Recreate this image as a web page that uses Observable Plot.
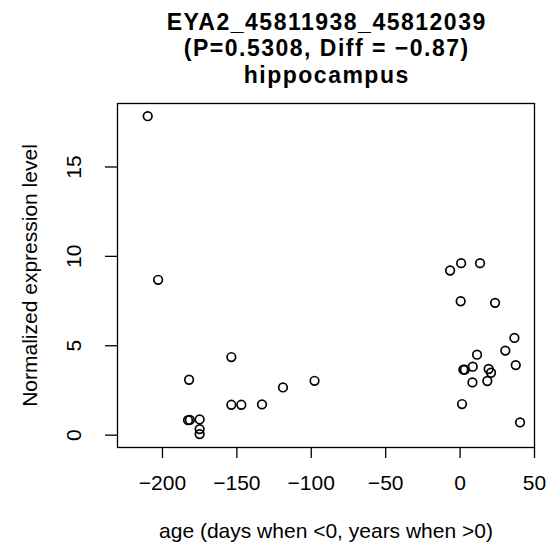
<!DOCTYPE html>
<html><head><meta charset="utf-8">
<script src="https://cdn.jsdelivr.net/npm/d3@7"></script>
<script src="https://cdn.jsdelivr.net/npm/@observablehq/plot@0.6"></script>
<style>body{margin:0;background:#fff}</style>
</head><body><div id="chart"></div>
<script>
const ages = [-209.9, -202.9, -182.1, -182.8, -181.6, -175.0, -175.0, -175.0, -153.7, -153.7, -147.0, -133.1, -119.0, -97.8,
  -6.7, 0.7, 13.4, 0.4, 23.5, 36.5, 30.4, 11.4, 2.2, 3.2, 8.5, 19.2, 20.8, 37.4, 8.3, 18.3, 1.3, 40.3];
const levels = [17.84, 8.69, 3.10, 0.84, 0.85, 0.88, 0.34, 0.06, 4.37, 1.70, 1.70, 1.72, 2.67, 3.04,
  9.21, 9.62, 9.62, 7.49, 7.40, 5.44, 4.73, 4.50, 3.66, 3.66, 3.83, 3.70, 3.49, 3.92, 2.95, 3.03, 1.74, 0.71];
const xTicks = [-200, -150, -100, -50, 0, 50];
const yTicks = [0, 5, 10, 15];
const titleLines = ["EYA2_45811938_45812039", "(P=0.5308, Diff = \u22120.87)", "hippocampus"];
const xLabel = "age (days when <0, years when >0)";
const yLabel = "Normalized expression level";

const data = ages.map((a, i) => ({age: a, level: levels[i]}));
const font = "'Liberation Sans', Arial, Helvetica, sans-serif";

const plot = Plot.plot({
  width: 552, height: 559,
  marginLeft: 117, marginRight: 18, marginTop: 103, marginBottom: 112,
  style: {fontFamily: font, background: "white", color: "black"},
  x: {domain: [-230.2, 50]},
  y: {domain: [-0.69, 18.55]},
  marks: [
    Plot.frame({stroke: "black", strokeWidth: 1.3}),
    Plot.axisX(xTicks, {tickSize: 11, tickPadding: 17, fontSize: 21, label: null, strokeWidth: 1.3}),
    Plot.axisY(yTicks, {tickSize: 12, tickPadding: 25, tickRotate: -90, fontSize: 21, label: null, strokeWidth: 1.3}),
    Plot.dot(data, {x: "age", y: "level", r: 4.3, stroke: "black", strokeWidth: 1.7, fill: "none"}),
    Plot.text([titleLines.join("\n")], {frameAnchor: "top", dy: -20.6, dx: 0.75, lineAnchor: "bottom", lineHeight: 26.7 / 23, fontWeight: "bold", fontSize: 23, fill: "black", className: "chart-title"}),
    Plot.text([xLabel], {frameAnchor: "bottom", dy: 90, lineAnchor: "bottom", fontSize: 21, fill: "black"}),
    Plot.text([yLabel], {frameAnchor: "left", dx: -80.3, rotate: -90, textAnchor: "middle", lineAnchor: "bottom", fontSize: 21, fill: "black"})
  ]
});
d3.select(plot).selectAll("g.chart-title text").style("letter-spacing", "1.5px");
document.getElementById("chart").appendChild(plot);
</script>
</body></html>
